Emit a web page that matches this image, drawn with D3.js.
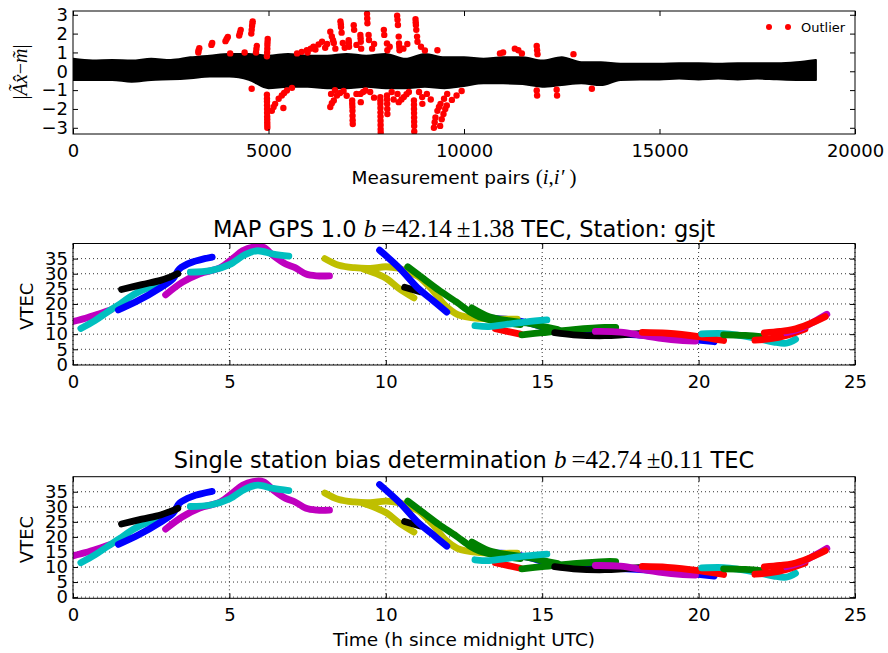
<!DOCTYPE html>
<html>
<head>
<meta charset="utf-8">
<script src="https://cdnjs.cloudflare.com/ajax/libs/d3/7.8.5/d3.min.js"></script>
<style>
  body { margin: 0; background: #fff; }
  text { font-family: "DejaVu Sans", sans-serif; fill: #000; }
  .math { font-family: "Liberation Serif", serif; }
</style>
</head>
<body>
<svg id="chart" width="888" height="653"></svg>
<script>
'use strict';

// ---- residual panel: envelope of the black residual cloud, sampled every 500 pairs
const bandX = [0, 500, 1000, 1500, 2000, 2500, 3000, 3500, 4000, 4500, 5000, 5500, 6000, 6500, 7000, 7500,
  8000, 8500, 9000, 9500, 10000, 10500, 11000, 11500, 12000, 12500, 13000, 13500, 14000, 14500, 15000,
  15500, 16000, 16500, 17000, 17500, 18000, 18500, 19000];
const bandHi = [0.66, 0.57, 0.6, 0.57, 0.66, 0.6, 0.74, 0.83, 0.92, 0.92, 0.83, 0.92, 0.83, 0.83, 0.92, 0.83,
  0.92, 0.66, 0.92, 0.74, 0.74, 0.66, 0.74, 0.74, 0.57, 0.74, 0.48, 0.48, 0.4, 0.4, 0.4,
  0.43, 0.43, 0.4, 0.43, 0.43, 0.43, 0.48, 0.6];
const bandLo = [-0.46, -0.46, -0.46, -0.55, -0.46, -0.43, -0.37, -0.28, -0.28, -0.45, -0.9, -0.82, -0.82, -0.9, -0.9, -0.82,
  -0.9, -0.9, -0.82, -0.9, -0.78, -0.64, -0.64, -0.68, -0.82, -0.73, -0.64, -0.73, -0.46, -0.43, -0.43,
  -0.39, -0.43, -0.39, -0.43, -0.39, -0.43, -0.46, -0.46];

// flagged outliers [pair index, residual]
const outliers = [
  [3205, 1.0], [3210, 1.1], [3230, 1.22], [3540, 1.4], [3560, 1.5],
  [3900, 1.6], [3930, 1.72], [3960, 1.82], [4020, 0.95],
  [4250, 1.9], [4270, 2.05], [4290, 2.2], [4390, 1.0],
  [4560, 2.0], [4570, 2.2], [4580, 2.4], [4590, 2.55], [4595, 2.65],
  [4680, 1.0], [4690, 1.18], [4700, 1.35],
  [4960, 0.8], [4965, 1.0], [4970, 1.2], [4972, 1.4], [4975, 1.55], [4980, 1.72],
  [5730, 0.95], [5850, 1.03], [5980, 1.12], [6080, 1.2], [6150, 1.3], [6280, 1.42], [6370, 1.57],
  [6000, 1.0], [6200, 1.15], [6450, 1.25], [6500, 1.45], [6900, 1.5], [6950, 1.25], [7250, 1.4],
  [7650, 1.2], [7700, 1.45], [8100, 1.3], [8450, 1.2], [8550, 1.45], [8900, 1.3], [9000, 1.1],
  [6580, 2.1], [6620, 1.85], [6650, 1.65], [6670, 1.5], [6710, 1.2],
  [6840, 2.65], [6850, 2.5], [6855, 2.35], [6870, 2.05],
  [7050, 1.65], [7055, 1.5], [7060, 1.3], [7180, 2.45], [7190, 2.2],
  [7350, 1.93], [7355, 1.75], [7360, 1.57], [7370, 1.2],
  [7520, 3.05], [7525, 2.8], [7530, 2.55], [7560, 1.93], [7570, 1.66],
  [7950, 2.2], [7960, 1.93], [8030, 1.48], [8040, 1.12],
  [8290, 2.95], [8300, 2.73], [8310, 2.46], [8330, 1.84], [8340, 1.48], [8345, 1.3], [8350, 1.12],
  [8760, 2.77], [8765, 2.6], [8770, 2.46], [8780, 2.2], [8800, 1.84], [8810, 1.57],
  [9320, 1.12], [10920, 0.95], [11000, 1.0],
  [11300, 1.2], [11390, 1.12], [11480, 0.95],
  [11860, 1.34], [11870, 1.12], [11880, 0.91], [12800, 0.91],
  [4570, -0.93],
  [4960, -1.25], [4961, -1.45], [4962, -1.6], [4963, -1.8], [4964, -2.0], [4965, -2.2], [4966, -2.4],
  [4967, -2.55], [4968, -2.7], [4969, -2.85], [4970, -3.0],
  [5085, -2.1], [5130, -1.9], [5170, -1.73], [5260, -1.46], [5340, -1.29], [5400, -1.15], [5470, -1.02], [5600, -0.88],
  [5380, -1.95],
  [6580, -1.9], [6620, -1.7], [6670, -1.55], [6750, -1.29], [6830, -1.15], [6920, -1.05],
  [6600, -1.2], [6700, -1.0], [7000, -1.3], [7250, -1.2], [7600, -1.1], [7700, -1.4],
  [8150, -1.1], [8200, -1.5], [8300, -1.2], [8850, -1.1], [9050, -1.2], [9150, -1.5],
  [7140, -1.55], [7142, -1.72], [7145, -1.9], [7148, -2.1], [7150, -2.36], [7152, -2.6], [7155, -2.8],
  [7350, -1.2], [7360, -1.64], [7420, -1.1], [7480, -1.02],
  [7860, -1.37], [7861, -1.55], [7862, -1.73], [7863, -1.95], [7864, -2.18], [7865, -2.4], [7866, -2.63],
  [7867, -2.85], [7868, -3.07], [7870, -3.25],
  [8030, -1.29], [8032, -1.5], [8035, -1.73], [8038, -2.0], [8040, -2.27],
  [8330, -1.64], [8400, -1.5], [8460, -1.37], [8530, -1.22], [8590, -1.1],
  [8720, -1.55], [8721, -1.78], [8722, -2.0], [8723, -2.22], [8724, -2.45], [8725, -2.68], [8726, -2.9], [8728, -3.2],
  [8930, -1.37], [8935, -1.73],
  [9230, -3.0], [9250, -2.7], [9270, -2.45], [9320, -2.1], [9360, -1.9], [9400, -1.73], [9490, -1.46], [9570, -1.2],
  [9390, -2.9], [9430, -2.55], [9475, -2.27], [9520, -2.0], [9560, -1.82], [9690, -1.52], [9810, -1.29], [9940, -1.05],
  [11860, -1.02], [11870, -1.29], [12370, -0.98], [12380, -1.29], [13270, -0.93]
];
const residTicksX = [0, 5000, 10000, 15000, 20000];
const residTicksY = [-3, -2, -1, 0, 1, 2, 3];

// ---- VTEC arcs, one per satellite pass [hour, VTEC]; colour key follows the matplotlib cycle
const arcColour = ['b', 'm', 'c', 'b', 'k', 'm', 'c', 'y', 'y', 'k', 'b', 'g', 'g', 'r', 'c', 'g', 'k', 'm', 'r', 'c', 'g', 'r', 'm', 'r'];

const mapGpsArcs = [
  [[12.9, 15.8], [13.5, 15.2], [14, 14.8], [14.6, 13.6], [15, 12.4], [15.5, 11.1], [16.5, 10.3], [17.5, 10], [18.5, 9.4], [19.5, 8.5], [20.5, 7.5]],
  [[0, 14.2], [0.4, 15.3], [0.8, 16.6], [1.2, 18]],
  [[0.25, 11.9], [0.7, 14.5], [1.1, 17.3], [1.5, 20], [1.8, 22.2], [2.1, 24], [2.7, 26.5]],
  [[1.45, 18], [2.1, 21.2], [2.75, 25.1], [3.2, 28.4], [3.4, 31.6], [3.8, 33.8], [4.45, 35.5]],
  [[1.55, 24.8], [2.2, 26.4], [2.8, 27.8], [3.1, 28.9], [3.35, 30]],
  [[2.96, 23], [3.5, 27.2], [4.05, 30], [4.7, 32], [5.1, 35], [5.42, 37.6], [5.75, 38.8], [6.1, 38.7], [6.4, 36], [6.8, 33.2], [7.1, 32], [7.45, 29.9], [7.8, 29.3], [8.2, 29.3]],
  [[3.75, 30.5], [4.4, 31], [5, 33], [5.5, 36.3], [5.9, 37.6], [6.4, 36.5], [6.9, 35.8]],
  [[8.05, 35], [8.5, 32.8], [9, 32], [9.5, 31.8], [10, 32.3], [10.4, 31.8], [10.75, 30.5], [11.05, 29], [11.5, 24.5], [11.9, 19.5], [12.3, 16.5], [13, 15.2], [14.2, 15]],
  [[9.3, 31.5], [9.7, 30], [10.05, 28.2], [10.4, 25.3], [10.9, 22]],
  [[10.6, 25.5], [11.1, 24]],
  [[9.8, 37.8], [10.45, 31.7], [11.05, 25], [11.5, 21.2], [11.95, 17.3]],
  [[10.7, 32.3], [11.2, 28.4], [11.7, 24.5], [12.25, 20.7], [12.7, 17.3], [13, 15.7], [13.6, 14.2], [14.3, 13.2]],
  [[12.75, 18.7], [13.3, 15.8], [13.9, 14.5], [14.5, 13.7], [15, 12.6], [15.5, 11.5]],
  [[13.5, 11.8], [14.3, 10]],
  [[12.85, 12.8], [13.3, 12.5], [13.9, 13.3], [14.5, 14.1], [15.15, 14.7]],
  [[14.35, 9.8], [15, 10.5], [16, 11.5], [17, 12.2], [17.35, 12.2]],
  [[15.4, 10.5], [16, 9.8], [17, 9.5], [18.1, 10.2]],
  [[16.7, 10.9], [17.5, 10.7], [18.2, 9.6], [18.8, 8.6], [19.5, 7.9], [19.9, 7.7]],
  [[18.2, 10.6], [19, 10.3], [20, 9.2], [20.8, 7.9]],
  [[20.1, 10.1], [20.8, 10.2], [21.3, 9.6], [21.9, 8.5], [22.4, 7.4], [22.8, 7], [23.1, 8.3]],
  [[20.8, 9.8], [21.5, 9.6], [22.1, 9.1]],
  [[21.8, 8], [22.3, 8.5], [22.8, 9.6], [23.4, 11.7]],
  [[22.8, 10.5], [23.3, 12], [23.7, 14.2], [24.1, 16.6]],
  [[22.1, 10.4], [22.6, 10.9], [23, 11.5], [23.5, 13.2], [24.05, 15.8]]
];

const singleArcs = [
  [[12.9, 15.3], [13.5, 14.7], [14, 14.3], [14.6, 13.1], [15, 11.9], [15.5, 10.6], [16.5, 9.8], [17.5, 9.5], [18.5, 8.9], [19.5, 8], [20.5, 7]],
  [[0, 13.7], [0.4, 14.8], [0.8, 16.1], [1.2, 17.5]],
  [[0.25, 11.4], [0.7, 14], [1.1, 16.8], [1.5, 19.5], [1.8, 21.7], [2.1, 23.5], [2.7, 26]],
  [[1.45, 17.5], [2.1, 20.7], [2.75, 24.6], [3.2, 27.9], [3.4, 31.2], [3.8, 33.4], [4.45, 35.1]],
  [[1.55, 24.3], [2.2, 25.9], [2.8, 27.3], [3.1, 28.4], [3.35, 29.5]],
  [[2.96, 22.6], [3.5, 26.7], [4.05, 29.6], [4.7, 31.6], [5.1, 34.6], [5.42, 37.2], [5.75, 38.4], [6.1, 38.3], [6.4, 35.6], [6.8, 32.8], [7.1, 31.6], [7.45, 29.5], [7.8, 28.9], [8.2, 28.9]],
  [[3.75, 30.1], [4.4, 30.6], [5, 32.6], [5.5, 35.9], [5.9, 37.2], [6.4, 36.1], [6.9, 35.4]],
  [[8.05, 34.6], [8.5, 32.4], [9, 31.6], [9.5, 31.4], [10, 31.9], [10.4, 31.4], [10.75, 30.1], [11.05, 28.6], [11.5, 24.1], [11.9, 19.1], [12.3, 16.1], [13, 14.8], [14.2, 14.6]],
  [[9.3, 31.1], [9.7, 29.6], [10.05, 27.8], [10.4, 24.9], [10.9, 21.6]],
  [[10.6, 25.1], [11.1, 23.6]],
  [[9.8, 37.4], [10.45, 31.3], [11.05, 24.6], [11.5, 20.8], [11.95, 16.9]],
  [[10.7, 31.9], [11.2, 28], [11.7, 24.1], [12.25, 20.3], [12.7, 16.9], [13, 15.3], [13.6, 13.8], [14.3, 12.8]],
  [[12.75, 18.3], [13.3, 15.4], [13.9, 14.1], [14.5, 13.3], [15, 12.2], [15.5, 11.1]],
  [[13.5, 11.4], [14.3, 9.6]],
  [[12.85, 12.4], [13.3, 12.1], [13.9, 12.9], [14.5, 13.7], [15.15, 14.3]],
  [[14.35, 9.4], [15, 10.1], [16, 11.1], [17, 11.8], [17.35, 11.8]],
  [[15.4, 10.1], [16, 9.4], [17, 9.1], [18.1, 9.8]],
  [[16.7, 10.5], [17.5, 10.3], [18.2, 9.2], [18.8, 8.2], [19.5, 7.5], [19.9, 7.3]],
  [[18.2, 10.2], [19, 9.9], [20, 8.8], [20.8, 7.5]],
  [[20.1, 9.7], [20.8, 9.8], [21.3, 9.2], [21.9, 8.1], [22.4, 7], [22.8, 6.6], [23.1, 7.9]],
  [[20.8, 9.4], [21.5, 9.2], [22.1, 8.7]],
  [[21.8, 7.6], [22.3, 8.1], [22.8, 9.2], [23.4, 11.3]],
  [[22.8, 10.1], [23.3, 11.6], [23.7, 13.8], [24.1, 16.2]],
  [[22.1, 10], [22.6, 10.5], [23, 11.1], [23.5, 12.8], [24.05, 15.4]]
];
const hourTicks = [0, 5, 10, 15, 20, 25];
const vtecTicks = [0, 5, 10, 15, 20, 25, 30, 35];

const svg = d3.select('#chart');
const mplColour = d3.scaleOrdinal()
  .domain(['b', 'g', 'r', 'c', 'm', 'y', 'k'])
  .range(['#0000ff', '#008000', '#ff0000', '#00bfbf', '#bf00bf', '#bfbf00', '#000000']);

const L = 73, R = 855;

// axes box with inward ticks on all four sides, optional dotted grid
function drawAxes(x, y, xt, yt, opts) {
  const [y0, y1] = y.range();
  const g = svg.append('g');

  if (opts.grid) {
    g.append('g').selectAll('line').data(xt).join('line')
      .attr('x1', d => x(d)).attr('x2', d => x(d)).attr('y1', y0).attr('y2', y1);
    g.append('g').selectAll('line').data(yt).join('line')
      .attr('x1', L).attr('x2', R).attr('y1', d => y(d)).attr('y2', d => y(d));
    g.selectAll('line')
      .attr('stroke', '#000').attr('stroke-width', 0.8).attr('stroke-dasharray', '1,3');
  }

  svg.append('g').attr('transform', `translate(0,${y0})`)
    .call(d3.axisBottom(x).tickValues(xt).tickFormat(d3.format('d')).tickSizeInner(-5).tickSizeOuter(0).tickPadding(10));
  svg.append('g').attr('transform', `translate(0,${y1})`)
    .call(d3.axisTop(x).tickValues(xt).tickFormat('').tickSizeInner(-5).tickSizeOuter(0));
  svg.append('g').attr('transform', `translate(${L},0)`)
    .call(d3.axisLeft(y).tickValues(yt).tickFormat(d3.format('d')).tickSizeInner(-5).tickSizeOuter(0).tickPadding(5));
  svg.append('g').attr('transform', `translate(${R},0)`)
    .call(d3.axisRight(y).tickValues(yt).tickFormat('').tickSizeInner(-5).tickSizeOuter(0));

  svg.selectAll('.domain').remove();
  svg.selectAll('.tick text').attr('font-size', 18).attr('font-family', 'DejaVu Sans').attr('fill', '#000');
}

function frame(y) {
  const [y0, y1] = y.range();
  svg.append('rect')
    .attr('x', L).attr('y', y1).attr('width', R - L).attr('height', y0 - y1)
    .attr('fill', 'none').attr('stroke', '#000').attr('stroke-width', 1);
}

function clipFor(id, y) {
  const [y0, y1] = y.range();
  svg.append('clipPath').attr('id', id)
    .append('rect').attr('x', L).attr('y', y1).attr('width', R - L).attr('height', y0 - y1);
  return `url(#${id})`;
}

// ---------------- panel 1: residuals ----------------
const xRes = d3.scaleLinear().domain([0, 20000]).range([L, R]);
const yRes = d3.scaleLinear().domain([-3.33, 3.2]).range([134, 11]);

const resG = svg.append('g').attr('clip-path', clipFor('clipRes', yRes));
const bandRows = bandX.map((d, i) => ({ x: d, hi: bandHi[i], lo: bandLo[i] }));
resG.append('path')
  .datum(bandRows)
  .attr('d', d3.area().x(d => xRes(d.x)).y0(d => yRes(d.lo)).y1(d => yRes(d.hi)).curve(d3.curveMonotoneX))
  .attr('fill', '#000').attr('stroke', '#000').attr('stroke-width', 2).attr('stroke-linejoin', 'round');
resG.selectAll('circle').data(outliers).join('circle')
  .attr('cx', d => xRes(d[0])).attr('cy', d => yRes(d[1])).attr('r', 3.2)
  .attr('fill', '#ff0000');

drawAxes(xRes, yRes, residTicksX, residTicksY, { grid: false });
frame(yRes);

// legend
const leg = svg.append('g');
leg.selectAll('circle').data([769, 788]).join('circle')
  .attr('cx', d => d).attr('cy', 27).attr('r', 3).attr('fill', '#ff0000');
leg.append('text').attr('x', 801).attr('y', 32).attr('font-size', 13).text('Outlier');

// axis labels
const xl1 = svg.append('text').attr('x', (L + R) / 2).attr('y', 184)
  .attr('text-anchor', 'middle').attr('font-size', 18.5);
xl1.append('tspan').text('Measurement pairs ');
xl1.append('tspan').attr('class', 'math').attr('font-size', 21).text('(');
xl1.append('tspan').attr('class', 'math').attr('font-size', 21).attr('font-style', 'italic').text('i');
xl1.append('tspan').attr('class', 'math').attr('font-size', 21).text(',');
xl1.append('tspan').attr('class', 'math').attr('font-size', 21).attr('font-style', 'italic').text('i\u2032');
xl1.append('tspan').attr('class', 'math').attr('font-size', 21).text(' )');

const yl1 = svg.append('text').attr('class', 'math')
  .attr('transform', 'translate(27,72) rotate(-90)')
  .attr('text-anchor', 'middle').attr('font-size', 20);
yl1.append('tspan').text('|');
yl1.append('tspan').attr('font-style', 'italic').text('\u00c3x\u0302');
yl1.append('tspan').text('\u2212');
yl1.append('tspan').attr('font-style', 'italic').text('m\u0303');
yl1.append('tspan').text('|');

// ---------------- panels 2 and 3: VTEC arcs ----------------
const xHour = d3.scaleLinear().domain([0, 25]).range([L, R]);

function vtecPanel(arcs, y, clipId) {
  drawAxes(xHour, y, hourTicks, vtecTicks, { grid: true });
  const line = d3.line().x(d => xHour(d[0])).y(d => y(d[1])).curve(d3.curveCatmullRom);
  svg.append('g').attr('clip-path', clipFor(clipId, y))
    .selectAll('path').data(arcs).join('path')
    .attr('d', line)
    .attr('fill', 'none')
    .attr('stroke', (d, i) => mplColour(arcColour[i]))
    .attr('stroke-width', 6.8)
    .attr('stroke-linecap', 'round')
    .attr('stroke-linejoin', 'round');
  frame(y);
  const cy = (y.range()[0] + y.range()[1]) / 2;
  svg.append('text').attr('transform', `translate(33,${cy + 2}) rotate(-90)`)
    .attr('text-anchor', 'middle').attr('font-size', 18).text('VTEC');
}

function title(yBase, before, math, after) {
  const t = svg.append('text').attr('x', (L + R) / 2).attr('y', yBase)
    .attr('text-anchor', 'middle').attr('font-size', 22.5);
  t.append('tspan').text(before);
  t.append('tspan').attr('class', 'math').attr('font-style', 'italic').attr('font-size', 25).text('b');
  t.append('tspan').attr('class', 'math').attr('font-size', 25).text(math);
  t.append('tspan').text(after);
}

const yMap = d3.scaleLinear().domain([-0.2, 40]).range([365, 243.5]);
vtecPanel(mapGpsArcs, yMap, 'clipMap');
title(237, 'MAP GPS 1.0 ', '\u2009=42.14\u2009\u00b11.38', ' TEC, Station: gsjt');

const ySingle = d3.scaleLinear().domain([-0.4, 40]).range([598.3, 476.7]);
vtecPanel(singleArcs, ySingle, 'clipSingle');
title(468, 'Single station bias determination ', '\u2009=42.74\u2009\u00b10.11', ' TEC');

svg.append('text').attr('x', (L + R) / 2).attr('y', 646)
  .attr('text-anchor', 'middle').attr('font-size', 18.5).text('Time (h since midnight UTC)');
</script>
</body>
</html>
